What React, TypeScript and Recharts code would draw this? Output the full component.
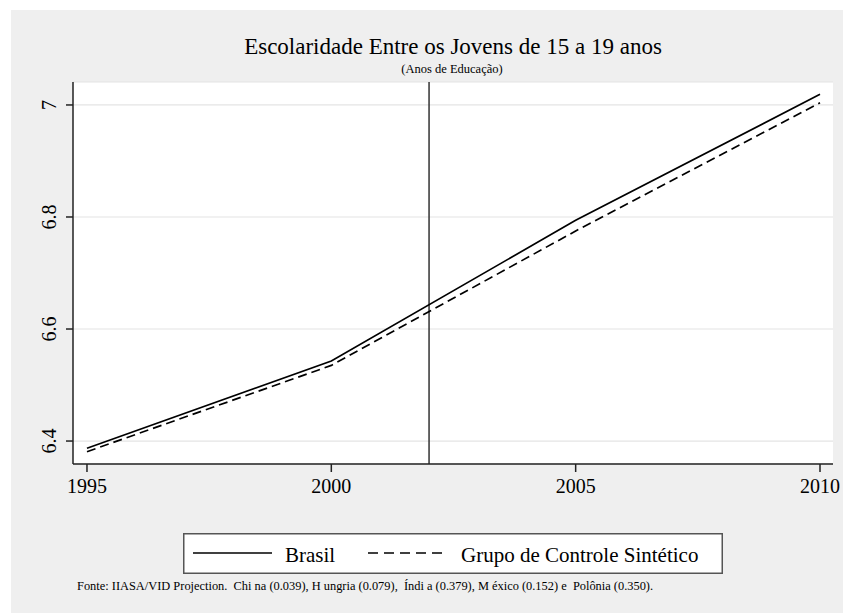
import { CartesianGrid, Legend, Line, LineChart, ReferenceLine, XAxis, YAxis } from "recharts";

const YEARS = [1995, 2000, 2005, 2010];
const BRASIL = [6.387, 6.543, 6.794, 7.019];
const SINTETICO = [6.381, 6.535, 6.775, 7.004];
const X_TICKS = [1995, 2000, 2005, 2010];
const Y_TICKS = [6.4, 6.6, 6.8, 7];
const TREATMENT_YEAR = 2002;

const TITLE = "Escolaridade Entre os Jovens de 15 a 19 anos";
const SUBTITLE = "(Anos de Educação)";
const NOTE =
	"Fonte: IIASA/VID Projection.  Chi na (0.039), H ungria (0.079),  Índi a (0.379), M éxico (0.152) e  Polônia (0.350).";

const FONT = "'Liberation Serif', 'Times New Roman', serif";
const W = 832;
const H = 603;

const data = YEARS.map((year, i) => ({
	year,
	brasil: BRASIL[i],
	sintetico: SINTETICO[i],
}));

function YTick(props: any) {
	const { x, y, payload } = props;
	return (
		<text
			transform={`translate(${x - 8}, ${y}) rotate(-90)`}
			textAnchor="middle"
			fontFamily={FONT}
			fontSize={20}
			fill="#000"
		>
			{payload.value}
		</text>
	);
}

function LegendBox() {
	return (
		<svg width={540} height={41} style={{ display: "block" }}>
			<rect x={0.75} y={0.75} width={538.5} height={39.5} fill="#fff" stroke="#555" strokeWidth={1.5} />
			<line x1={10} x2={89} y1={20} y2={20} stroke="#000" strokeWidth={1.7} />
			<text x={102} y={29} fontFamily={FONT} fontSize={21} fill="#000">
				Brasil
			</text>
			<line x1={185} x2={265} y1={20} y2={20} stroke="#000" strokeWidth={1.7} strokeDasharray="10 6" />
			<text x={278} y={29} fontFamily={FONT} fontSize={21} fill="#000">
				Grupo de Controle Sintético
			</text>
		</svg>
	);
}

export default function App() {
	return (
		<div style={{ position: "absolute", left: 11, top: 10, width: W, height: H, background: "#efefef" }}>
			<LineChart width={W} height={H} data={data} margin={{ top: 72, right: 10, bottom: 109, left: 0 }}>
				<CartesianGrid horizontal vertical={false} fill="#fff" stroke="#e4e4e4" strokeWidth={1.2} />
				<XAxis
					dataKey="year"
					type="number"
					domain={[1994.714, 2010.266]}
					ticks={X_TICKS}
					tickSize={8}
					tickMargin={7}
					height={40}
					stroke="#222"
					strokeWidth={1.5}
					tick={{ fontFamily: FONT, fontSize: 20, fill: "#000" }}
					allowDataOverflow
				/>
				<YAxis
					type="number"
					domain={[6.359, 7.041]}
					ticks={Y_TICKS}
					width={62}
					tickSize={7}
					tickMargin={2}
					stroke="#222"
					strokeWidth={1.5}
					tick={<YTick />}
					allowDataOverflow
				/>
				<ReferenceLine x={TREATMENT_YEAR} stroke="#333" strokeWidth={1.5} />
				<Line
					dataKey="brasil"
					name="Brasil"
					type="linear"
					stroke="#000"
					strokeWidth={1.7}
					dot={false}
					isAnimationActive={false}
				/>
				<Line
					dataKey="sintetico"
					name="Grupo de Controle Sintético"
					type="linear"
					stroke="#000"
					strokeWidth={1.7}
					strokeDasharray="9 5"
					dot={false}
					isAnimationActive={false}
				/>
				<Legend
					layout="horizontal"
					verticalAlign="middle"
					align="center"
					content={<LegendBox />}
					wrapperStyle={{ left: 172, top: 523, width: 540, height: 41 }}
				/>
			</LineChart>
			<svg
				width={W}
				height={H}
				style={{ position: "absolute", left: 0, top: 0, pointerEvents: "none" }}
			>
				<text x={442} y={44} textAnchor="middle" fontFamily={FONT} fontSize={23} fill="#000">
					{TITLE}
				</text>
				<text x={441} y={63} textAnchor="middle" fontFamily={FONT} fontSize={12.5} fill="#000">
					{SUBTITLE}
				</text>
				<text x={66} y={580} fontFamily={FONT} fontSize={12.4} fill="#000" style={{ whiteSpace: "pre" }}>
					{NOTE}
				</text>
			</svg>
		</div>
	);
}
